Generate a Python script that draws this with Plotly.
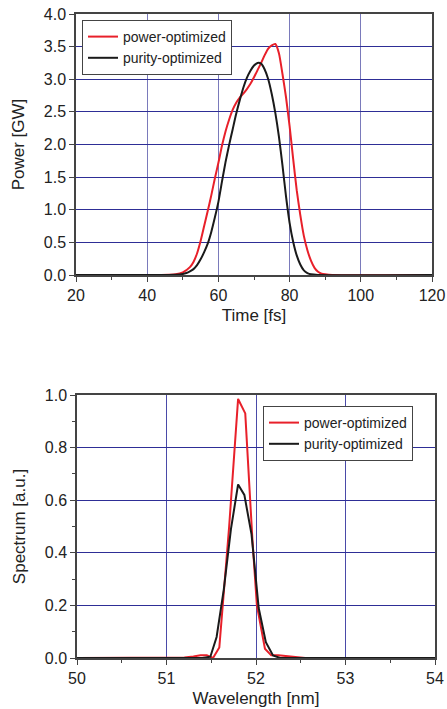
import plotly.graph_objects as go

# ---- top panel: temporal power profile ----
time_fs = [20, 44, 46, 48, 50, 52, 53, 54, 55, 56, 57, 58, 59, 60, 61, 62, 63, 64, 65, 66,
           67, 68, 69, 70, 71, 72, 73, 74, 75, 76, 77, 78, 79, 80, 81, 82, 83, 84, 85, 86,
           87, 88, 89, 90, 92, 120]
power_opt_gw = [0, 0, 0.003, 0.01, 0.04, 0.12, 0.2, 0.33, 0.52, 0.75, 0.98, 1.22, 1.48, 1.72, 1.98, 2.2,
                2.38, 2.53, 2.64, 2.72, 2.78, 2.85, 2.93, 3.03, 3.14, 3.25, 3.37, 3.47, 3.52, 3.54,
                3.4, 3.08, 2.72, 2.28, 1.78, 1.3, 0.92, 0.6, 0.38, 0.22, 0.11, 0.05, 0.02, 0.01, 0, 0]
time_fs_b = [20, 46, 48, 50, 51, 52, 53, 54, 55, 56, 57, 58, 59, 60, 61, 62, 63, 64, 65, 66,
             67, 68, 69, 70, 71, 72, 73, 74, 75, 76, 77, 78, 79, 80, 81, 82, 83, 84, 85, 86,
             88, 120]
purity_opt_gw = [0, 0, 0.003, 0.015, 0.03, 0.055, 0.09, 0.15, 0.24, 0.35, 0.48, 0.66, 0.88, 1.12, 1.43, 1.73,
                 1.99, 2.23, 2.47, 2.68, 2.87, 3.02, 3.13, 3.21, 3.25, 3.24, 3.15, 3.0, 2.77, 2.48,
                 2.12, 1.68, 1.2, 0.8, 0.51, 0.3, 0.16, 0.07, 0.03, 0.01, 0, 0]

# ---- bottom panel: spectrum ----
wl_power_nm = [50, 51.1, 51.2, 51.3, 51.38, 51.45, 51.52, 51.59, 51.70, 51.80, 51.88, 51.96, 52.01,
               52.10, 52.17, 52.25, 52.35, 52.45, 52.55, 54]
spec_power = [0, 0, 0.002, 0.006, 0.01, 0.01, 0.0, 0.04, 0.5, 0.985, 0.93, 0.45, 0.2,
              0.035, 0.01, 0.01, 0.006, 0.002, 0, 0]
wl_purity_nm = [50, 51.40, 51.49, 51.56, 51.64, 51.72, 51.80, 51.87, 51.95, 52.03, 52.11, 52.19, 52.27, 54]
spec_purity = [0, 0, 0.005, 0.08, 0.26, 0.49, 0.66, 0.62, 0.47, 0.19, 0.06, 0.01, 0, 0]

RED = "#e8202a"
BLACK = "#1a1a1a"
FONT = "Liberation Sans, Arial, sans-serif"
TXT = "#222222"
FRAME = "#444444"

fig = go.Figure()
fig.add_trace(go.Scatter(x=time_fs, y=power_opt_gw, mode="lines", name="power-optimized",
                         line=dict(color=RED, width=2, shape="spline", smoothing=0.6),
                         xaxis="x", yaxis="y", legend="legend"))
fig.add_trace(go.Scatter(x=time_fs_b, y=purity_opt_gw, mode="lines", name="purity-optimized",
                         line=dict(color=BLACK, width=2, shape="spline", smoothing=0.6),
                         xaxis="x", yaxis="y", legend="legend"))
fig.add_trace(go.Scatter(x=wl_power_nm, y=spec_power, mode="lines", name="power-optimized",
                         line=dict(color=RED, width=2),
                         xaxis="x2", yaxis="y2", legend="legend2"))
fig.add_trace(go.Scatter(x=wl_purity_nm, y=spec_purity, mode="lines", name="purity-optimized",
                         line=dict(color=BLACK, width=2),
                         xaxis="x2", yaxis="y2", legend="legend2"))

W, H = 447, 709
ML, MR, MT, MB = 76, 12, 14, 51
PW, PH = W - ML - MR, H - MT - MB

def xd(a, b):
    return [(a - ML) / PW, (b - ML) / PW]

def yd(top, bot):
    return [(H - MB - bot) / PH, (H - MB - top) / PH]

axis_common = dict(showline=True, linecolor=FRAME, linewidth=1.5, mirror=True,
                   ticks="outside", ticklen=5, tickwidth=1, tickcolor=FRAME,
                   tickfont=dict(family=FONT, size=16, color=TXT),
                   zeroline=False, gridwidth=1.3, automargin=False)

# mirrored axes that carry inward ticks on the top / right edges
mirror_common = dict(showline=False, showgrid=False, zeroline=False, showticklabels=False,
                     ticks="inside", ticklen=5, tickwidth=1, tickcolor=FRAME, automargin=False)

fig.update_layout(
    width=W, height=H, margin=dict(l=ML, r=MR, t=MT, b=MB),
    paper_bgcolor="white", plot_bgcolor="white",
    font=dict(family=FONT, color=TXT),
    xaxis=dict(domain=xd(76, 432), anchor="y", range=[20, 120], dtick=20, tick0=20,
               showgrid=True, gridcolor="#7a7abb",
               minor=dict(dtick=10, ticks="outside", ticklen=3, tickcolor=FRAME, showgrid=False),
               title=dict(text="Time [fs]", font=dict(family=FONT, size=17, color=TXT), standoff=6),
               **axis_common),
    yaxis=dict(domain=yd(14, 275), anchor="x", range=[0, 4], dtick=0.5, tickformat=".1f",
               showgrid=True, gridcolor="#2e2e96",
               title=dict(text="Power [GW]", font=dict(family=FONT, size=17, color=TXT), standoff=15),
               **axis_common),
    xaxis3=dict(overlaying="x", anchor="y", side="top", range=[20, 120], dtick=20, tick0=20,
                minor=dict(dtick=10, ticks="inside", ticklen=3, tickcolor=FRAME, showgrid=False),
                **mirror_common),
    xaxis2=dict(domain=xd(77, 435), anchor="y2", range=[50, 54], dtick=1, tick0=50,
                showgrid=True, gridcolor="#4a4aa8",
                minor=dict(dtick=0.5, ticks="outside", ticklen=3, tickcolor=FRAME, showgrid=False),
                title=dict(text="Wavelength [nm]", font=dict(family=FONT, size=17, color=TXT), standoff=6),
                **axis_common),
    yaxis2=dict(domain=yd(395, 658), anchor="x2", range=[0, 1], dtick=0.2, tickformat=".1f",
                showgrid=True, gridcolor="#2e2e96",
                minor=dict(dtick=0.1, ticks="outside", ticklen=3, tickcolor=FRAME, showgrid=False),
                title=dict(text="Spectrum [a.u.]", font=dict(family=FONT, size=17, color=TXT), standoff=15),
                **axis_common),
    xaxis4=dict(overlaying="x2", anchor="y2", side="top", range=[50, 54], dtick=1, tick0=50,
                minor=dict(dtick=0.5, ticks="inside", ticklen=3, tickcolor=FRAME, showgrid=False),
                **mirror_common),
    yaxis4=dict(overlaying="y2", anchor="x2", side="right", range=[0, 1], dtick=0.2,
                minor=dict(dtick=0.1, ticks="inside", ticklen=3, tickcolor=FRAME, showgrid=False),
                **mirror_common),
    legend=dict(x=xd(82, 0)[0], y=yd(20, 0)[1], xref="paper", yref="paper",
                xanchor="left", yanchor="top",
                bgcolor="white", bordercolor=FRAME, borderwidth=1,
                font=dict(family=FONT, size=14, color=TXT), tracegroupgap=0,
                itemwidth=30),
    legend2=dict(x=xd(263, 0)[0], y=yd(406, 0)[1], xref="paper", yref="paper",
                 xanchor="left", yanchor="top",
                 bgcolor="white", bordercolor=FRAME, borderwidth=1,
                 font=dict(family=FONT, size=14, color=TXT), tracegroupgap=0,
                 itemwidth=30),
    showlegend=True,
)

fig.write_html("out.html", config={"displayModeBar": False},
               post_script="document.body.style.margin='0';document.body.style.overflow='hidden';")
